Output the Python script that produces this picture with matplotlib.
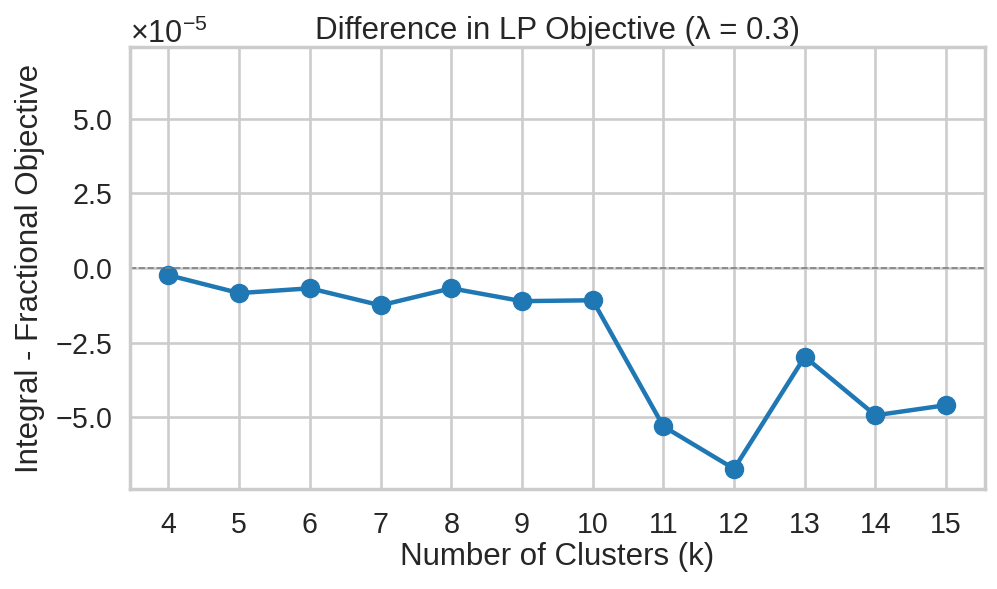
import numpy as np
import matplotlib
matplotlib.use("Agg")
import matplotlib.pyplot as plt
import seaborn as sns

# valores (en unidades de 1e-5)
k_vals = [4, 5, 6, 7, 8, 9, 10, 11, 12, 13, 14, 15]
diff_obj = [-0.24, -0.84, -0.68, -1.25, -0.68, -1.11, -1.08,
            -5.30, -6.72, -2.97, -4.93, -4.59]
diff_obj = np.array(diff_obj) * 1e-5

sns.set_theme(style="whitegrid", context="talk")
plt.rcParams['font.family'] = ['Liberation Sans', 'DejaVu Sans']
plt.rcParams['mathtext.fontset'] = 'custom'
plt.rcParams['mathtext.rm'] = 'Liberation Sans'

fig, ax = plt.subplots(figsize=(9.97, 5.89), dpi=100)
fig.subplots_adjust(left=0.130, right=0.988, top=0.920, bottom=0.170)

ax.plot(k_vals, diff_obj, marker='o', color='#1f77b4', lw=3.2, ms=13)
ax.axhline(0, color='gray', ls='--', lw=1.2)

lim = np.abs(diff_obj).max() * 1.1
ax.set_ylim(-lim, lim)
ax.set_xticks(k_vals)
ax.yaxis.set_major_locator(matplotlib.ticker.MultipleLocator(2.5e-5))

fmt = matplotlib.ticker.ScalarFormatter(useMathText=True)
fmt.set_powerlimits((0, 0))
ax.yaxis.set_major_formatter(fmt)

ax.grid(True, color='#cccccc', lw=1.9)
ax.set_xlabel("Number of Clusters (k)", fontsize=22.5, labelpad=2)
ax.set_ylabel("Integral - Fractional Objective", fontsize=22.5, labelpad=7)
ax.set_title("Difference in LP Objective (λ = 0.3)", fontsize=22.5)
ax.tick_params(labelsize=20.6)
ax.tick_params(axis='x', pad=7)
ax.yaxis.get_offset_text().set_fontsize(22)

for s in ax.spines.values():
    s.set_color('#cccccc')
    s.set_linewidth(2.5)

fig.savefig("out.png", dpi=100)
